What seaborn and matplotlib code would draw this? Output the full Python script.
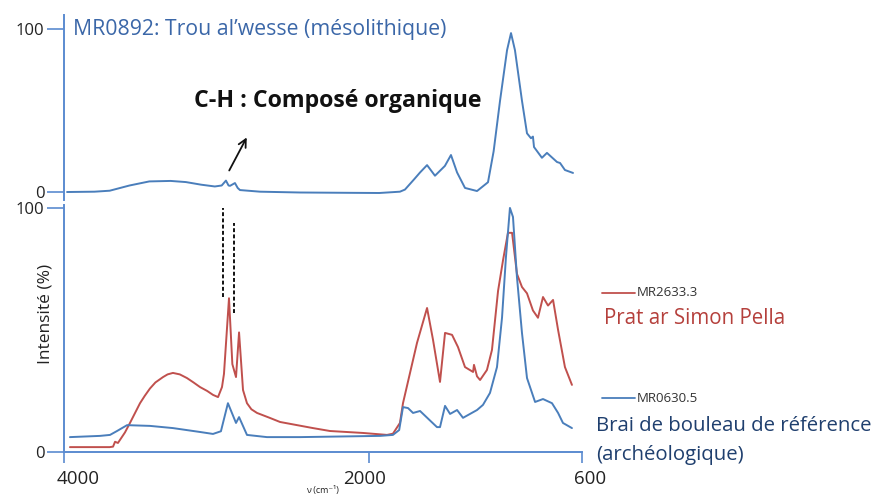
import matplotlib
matplotlib.use("Agg")
import matplotlib.pyplot as plt
import matplotlib.transforms as mtransforms
from matplotlib.lines import Line2D
import seaborn as sns
import pandas as pd

# --- spectra (wavenumber in cm-1, intensity in %) ---
wn_mr0892 = [3980, 3800, 3700, 3570, 3440, 3300, 3200, 3100, 3010, 2965, 2937, 2920,
             2910, 2878, 2860, 2845, 2713, 2450, 2120, 1930, 1795, 1762, 1700, 1663,
             1617, 1565, 1500, 1460, 1420, 1368, 1289, 1217, 1180, 1138, 1092, 1066,
             1040, 994, 961, 935, 922, 915, 863, 830, 764, 744, 712, 659]
int_mr0892 = [0.0, 0.2, 0.8, 4.0, 6.5, 6.8, 6.1, 4.5, 3.4, 4.0, 7.0, 4.0,
              3.8, 5.5, 2.5, 1.2, 0.2, -0.3, -0.5, -0.6, 0.2, 1.5, 8.0, 12.0,
              16.5, 10.0, 16.0, 22.7, 12.0, 2.5, 0.6, 6.0, 25.0, 56.0, 87.0, 97.5,
              87.0, 56.0, 36.0, 33.0, 34.0, 27.6, 21.0, 24.0, 18.4, 17.8, 13.5, 11.7]

wn_mr2633 = [3961, 3700, 3678, 3665, 3646, 3600, 3567, 3501, 3470, 3436, 3400, 3350,
             3320, 3285, 3240, 3193, 3150, 3107, 3060, 3022, 2989, 2963, 2950, 2917,
             2895, 2871, 2851, 2825, 2799, 2770, 2733, 2650, 2582, 2366, 2254, 2037,
             1880, 1841, 1795, 1775, 1683, 1617, 1578, 1532, 1499, 1453, 1414, 1368,
             1315, 1309, 1289, 1269, 1224, 1191, 1151, 1118, 1086, 1059, 1027, 994,
             961, 922, 889, 856, 823, 790, 757, 712, 666]
int_mr2633 = [2.0, 2.0, 2.2, 4.2, 3.7, 8.0, 11.9, 20.0, 23.0, 26.0, 28.5, 30.7,
              31.8, 32.4, 31.8, 30.3, 28.5, 26.6, 25.0, 23.4, 22.5, 26.6, 32.0, 63.0,
              36.0, 30.7, 49.0, 25.4, 20.0, 17.5, 16.0, 14.0, 12.3, 9.8, 8.6, 7.8,
              7.0, 7.5, 11.9, 20.0, 44.7, 59.0, 46.0, 28.7, 48.8, 48.0, 43.0, 34.8,
              32.8, 35.7, 31.0, 29.5, 33.6, 41.8, 66.0, 78.7, 89.8, 89.8, 73.0, 67.6,
              65.0, 58.0, 55.0, 63.5, 60.0, 62.3, 50.0, 34.8, 27.5]

wn_mr0630 = [3961, 3764, 3698, 3652, 3586, 3436, 3285, 3107, 3022, 2970, 2924, 2871,
             2851, 2799, 2668, 2451, 1926, 1841, 1800, 1775, 1742, 1709, 1663, 1552,
             1532, 1499, 1466, 1420, 1381, 1289, 1250, 1204, 1158, 1125, 1099, 1073,
             1053, 1027, 994, 961, 908, 856, 797, 757, 725, 666]
int_mr0630 = [6.1, 6.6, 7.0, 8.6, 11.0, 10.7, 9.8, 8.2, 7.4, 8.5, 20.0, 11.9,
              14.3, 7.0, 6.1, 6.1, 6.6, 7.0, 9.0, 18.4, 18.0, 16.0, 16.8, 10.2,
              10.2, 18.9, 15.6, 17.2, 14.0, 17.2, 19.3, 24.2, 34.8, 55.0, 80.0, 100.0,
              96.3, 71.7, 48.8, 30.3, 20.5, 21.7, 20.0, 16.0, 11.9, 9.8]

# C-H stretching bands marked with dashed guides: (wavenumber, y_low, y_high)
ch_bands = [(2956, 63.5, 100.0), (2885, 57.0, 93.9)]

x_ticks = [4000, 2000, 600]
y_ticks = [0, 100]

BLUE = "#4a7ebb"
RED = "#c0504d"
AXIS = "#5b8bd0"
TEXT = "#222222"

sns.set_theme(style="white")
plt.rcParams["font.family"] = ["Open Sans", "DejaVu Sans"]

W, H = 880, 495
fig = plt.figure(figsize=(W / 100, H / 100), dpi=100)


def px_box(x0, x1, y_top, y_bot):
    return [x0 / W, 1 - y_bot / H, (x1 - x0) / W, (y_bot - y_top) / H]


ax_top = fig.add_axes(px_box(64, 582, 15, 200))
ax_bot = fig.add_axes(px_box(64, 582, 205, 452))

df_top = pd.DataFrame({"wn": wn_mr0892, "val": int_mr0892})
df_red = pd.DataFrame({"wn": wn_mr2633, "val": int_mr2633})
df_blue = pd.DataFrame({"wn": wn_mr0630, "val": int_mr0630})

sns.lineplot(data=df_top, x="wn", y="val", ax=ax_top, color=BLUE, lw=1.4,
             sort=False, estimator=None)
sns.lineplot(data=df_red, x="wn", y="val", ax=ax_bot, color=RED, lw=1.4,
             sort=False, estimator=None)
sns.lineplot(data=df_blue, x="wn", y="val", ax=ax_bot, color=BLUE, lw=1.4,
             sort=False, estimator=None)

for wn, lo, hi in ch_bands:
    ax_bot.plot([wn, wn], [lo, hi], color="#111111", lw=1.4, ls=(0, (2, 1.2)))

for ax in (ax_top, ax_bot):
    ax.set_xlim(4000, 600)
    ax.set_xlabel("")
    ax.set_ylabel("")
    ax.set_facecolor("none")
    ax.spines["top"].set_visible(False)
    ax.spines["right"].set_visible(False)
    ax.spines["left"].set_color(AXIS)
    ax.spines["left"].set_linewidth(1.4)
    ax.set_yticks(y_ticks)
    ax.tick_params(axis="y", direction="out", length=12, width=1.2, color=AXIS,
                   labelsize=12, labelcolor=TEXT, pad=2, left=True)

ax_top.set_ylim(-4.9, 108.6)
ax_top.spines["bottom"].set_visible(False)
ax_top.set_xticks([])

ax_bot.set_ylim(0, 101.2)
ax_bot.spines["bottom"].set_color(AXIS)
ax_bot.spines["bottom"].set_linewidth(1.4)
ax_bot.set_xticks(x_ticks)
ax_bot.set_xticklabels([str(t) for t in x_ticks])
ax_bot.tick_params(axis="x", direction="out", length=8, width=1.2, color=AXIS,
                   labelsize=13.5, labelcolor=TEXT, pad=5, bottom=True)
for lab, dx in zip(ax_bot.get_xticklabels(), [14, -4, 8]):
    lab.set_transform(lab.get_transform() +
                      mtransforms.ScaledTranslation(dx / 100, 0, fig.dpi_scale_trans))

# titles and annotation
fig.text(73 / W, 1 - 29 / H, "MR0892: Trou al\u2019wesse (m\u00e9solithique)",
         color="#3b67a8", fontsize=15.3, ha="left", va="center")
ax_top.annotate("", xy=(2792, 35), xytext=(2924, 11.7),
                arrowprops=dict(arrowstyle="->", color="#111111", lw=1.3,
                                mutation_scale=14))
ax_top.text(2202, 55.8, "C-H : Compos\u00e9 organique", fontsize=16.7,
            fontweight="bold", color="#111111", ha="center", va="center")

fig.text(45 / W, 1 - 314 / H, "Intensit\u00e9 (%)", rotation=90, fontsize=12.5,
         color=TEXT, ha="center", va="center")
fig.text(322 / W, 1 - 491 / H, "\u03bd (cm\u207b\u00b9)", fontsize=6.5,
         color=TEXT, ha="center", va="center")

# series labels
for y_px, col, code in [(293, RED, "MR2633.3"), (398, BLUE, "MR0630.5")]:
    fig.add_artist(Line2D([602 / W, 635 / W], [1 - y_px / H, 1 - y_px / H],
                          color=col, lw=1.3))
    fig.text(637 / W, 1 - y_px / H, code, fontsize=9.5, color="#333333",
             ha="left", va="center")
fig.text(604 / W, 1 - 319 / H, "Prat ar Simon Pella", fontsize=14.8,
         color="#b5403c", ha="left", va="center")
fig.text(596 / W, 1 - 426 / H, "Brai de bouleau de r\u00e9f\u00e9rence", fontsize=14.7,
         color="#1f3f6e", ha="left", va="center")
fig.text(596 / W, 1 - 455 / H, "(arch\u00e9ologique)", fontsize=14.7,
         color="#1f3f6e", ha="left", va="center")

fig.savefig("out.png", dpi=100, facecolor="white")
